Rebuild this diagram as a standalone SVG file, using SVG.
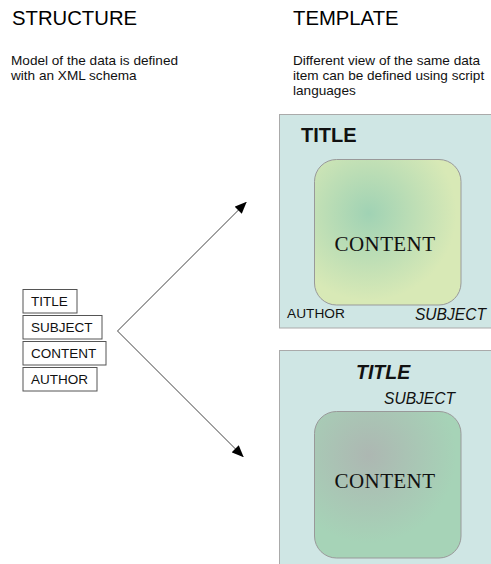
<svg xmlns="http://www.w3.org/2000/svg" width="491" height="564" viewBox="0 0 491 564">
<style>
.h{font-family:"Liberation Sans",Arial,sans-serif;font-size:20.3px;fill:#000}
.d{font-family:"Liberation Sans",Arial,sans-serif;font-size:13.6px;fill:#111}
.bx rect{fill:#fff;stroke:#555;stroke-width:1}
.bx text{font-family:"Liberation Sans",Arial,sans-serif;font-size:13.5px;fill:#111}
.tpl{fill:#cfe6e4;stroke:#aaa;stroke-width:1}
.cb{stroke:#999;stroke-width:1}
.ct{font-family:"Liberation Serif","Times New Roman",serif;font-size:21px;fill:#111;text-anchor:middle;letter-spacing:0.4px}
.lbl{font-family:"Liberation Sans",Arial,sans-serif;fill:#111}
.conn{fill:none;stroke:#444;stroke-width:1}
</style>
<defs>
<radialGradient id="g1" cx="0.37" cy="0.37" r="0.6">
<stop offset="0" stop-color="#a0d2b4"/>
<stop offset="1" stop-color="#d8e9b6"/>
</radialGradient>
<radialGradient id="g2" cx="0.37" cy="0.3" r="0.6">
<stop offset="0" stop-color="#adb7b2"/>
<stop offset="1" stop-color="#a6d3b7"/>
</radialGradient>
<marker id="ah" markerWidth="12" markerHeight="10" refX="11" refY="5" orient="auto-start-reverse" markerUnits="userSpaceOnUse">
<path d="M0,0 L12,5 L0,10 Z" fill="#000"/>
</marker>
</defs>
<text class="h" x="12" y="25">STRUCTURE</text>
<text class="d" x="11" y="65">Model of the data is defined</text>
<text class="d" x="11" y="80">with an XML schema</text>
<text class="h" x="293" y="25">TEMPLATE</text>
<text class="d" x="293" y="65">Different view of the same data</text>
<text class="d" x="293" y="80">item can be defined using script</text>
<text class="d" x="293" y="95">languages</text>
<g id="structure">
<g id="s-title" class="bx"><rect x="23" y="289.5" width="54" height="23.5"/><text x="31" y="306">TITLE</text></g>
<g id="s-subject" class="bx"><rect x="23" y="315.5" width="79" height="23.5"/><text x="31" y="332">SUBJECT</text></g>
<g id="s-content" class="bx"><rect x="23" y="341.5" width="83" height="23.5"/><text x="31" y="358">CONTENT</text></g>
<g id="s-author" class="bx"><rect x="23" y="367.5" width="74" height="23.5"/><text x="31" y="384">AUTHOR</text></g>
</g>
<g id="template1">
<rect class="tpl" x="279.5" y="114.5" width="215" height="213.5"/>
<rect class="cb" x="314.5" y="159.5" width="146.5" height="145.5" rx="22" fill="url(#g1)"/>
<text class="ct" x="385" y="251">CONTENT</text>
<text class="lbl" x="301" y="142" font-size="20" font-weight="bold">TITLE</text>
<text class="lbl" x="287" y="318" font-size="13.7">AUTHOR</text>
<text class="lbl" x="486" y="320" font-size="15.6" font-style="italic" text-anchor="end">SUBJECT</text>
</g>
<g id="template2">
<rect class="tpl" x="279.5" y="350.5" width="215" height="220"/>
<rect class="cb" x="314.5" y="411.5" width="146.5" height="146.5" rx="22" fill="url(#g2)"/>
<text class="ct" x="385" y="488">CONTENT</text>
<text class="lbl" x="356" y="379" font-size="19.5" font-weight="bold" font-style="italic">TITLE</text>
<text class="lbl" x="384" y="404" font-size="15.6" font-style="italic">SUBJECT</text>
</g>
<g id="connectors">
<path class="conn" d="M246,202.5 L117.5,331 L243,456.5" marker-start="url(#ah)" marker-end="url(#ah)"/>
</g>
</svg>
